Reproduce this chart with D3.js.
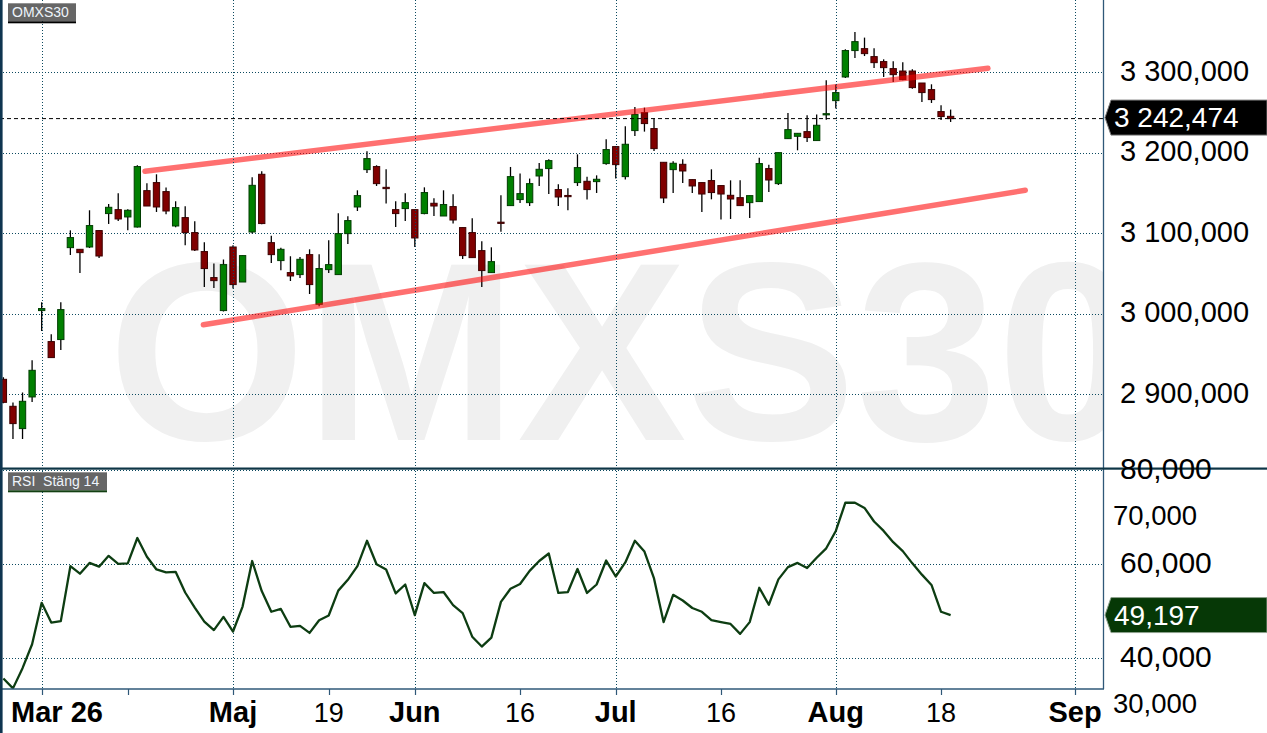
<!DOCTYPE html>
<html><head><meta charset="utf-8">
<script src="https://cdn.jsdelivr.net/npm/d3@7"></script>
<style>
body{margin:0;background:#fff;overflow:hidden}
text{font-family:"Liberation Sans",Arial,Helvetica,sans-serif}
</style>
</head><body>
<svg id="chart" width="1267" height="733"></svg>
<script>
// ---------------- data ----------------
const openP = [
2918.6,2885.1,2857.4,2896.7,3004.0,2965.5,2968.0,3082.2,3080.1,3083.0,
3103.4,3124.5,3129.4,3120.3,3107.8,3153.0,3163.0,3151.8,3109.1,3119.5,
3100.9,3077.3,3045.0,3004.0,3083.0,3039.5,3101.6,3173.3,3088.4,3066.1,
3051.2,3048.7,3073.5,3011.8,3054.9,3048.7,3099.6,3132.7,3179.1,3182.9,
3157.1,3129.4,3130.7,3129.4,3124.5,3137.3,3121.5,3133.2,3107.1,3100.9,
3078.5,3051.2,3113.8,3134.4,3141.9,3138.1,3171.2,3180.4,3154.3,3147.0,
3163.0,3164.6,3164.2,3186.6,3207.7,3170.4,3227.6,3249.9,3230.1,3188.2,
3179.1,3185.7,3166.7,3163.0,3165.5,3159.3,3147.2,3144.3,3138.1,3139.4,
3180.4,3161.7,3217.6,3220.5,3226.3,3215.2,3247.8,3264.8,3294.2,3327.0,
3329.4,3319.5,3313.3,3304.6,3301.6,3301.6,3286.7,3278.5,3251.2,3245.3];
const highP = [
2921.1,2889.7,2902.1,2942.2,3014.3,2974.5,3014.3,3103.7,3080.1,3128.6,
3103.4,3136.4,3149.7,3129.8,3184.5,3162.1,3173.3,3156.8,3139.8,3133.5,
3114.9,3088.8,3062.4,3067.3,3085.1,3072.3,3169.6,3177.0,3097.1,3082.2,
3071.4,3070.6,3080.1,3073.9,3091.3,3124.8,3121.1,3153.4,3201.9,3184.5,
3179.5,3139.8,3149.7,3129.4,3157.1,3143.5,3153.4,3148.4,3107.1,3118.6,
3090.1,3082.6,3147.2,3182.4,3174.2,3168.0,3187.3,3191.9,3160.9,3155.9,
3198.1,3170.4,3172.0,3216.8,3207.7,3232.9,3256.9,3256.1,3242.5,3188.2,
3189.4,3191.9,3166.7,3163.0,3179.5,3159.3,3165.8,3165.8,3146.8,3194.0,
3185.3,3200.2,3249.4,3224.2,3246.6,3247.5,3290.1,3284.7,3328.6,3350.1,
3343.1,3329.8,3316.1,3313.7,3312.4,3303.7,3286.7,3285.1,3259.0,3253.7];
const lowP = [
2889.0,2844.5,2844.5,2890.4,2978.6,2945.6,2955.0,3073.0,3050.7,3081.7,
3069.3,3111.6,3115.3,3103.7,3107.1,3133.9,3126.5,3123.6,3107.5,3085.1,
3078.0,3033.3,3032.1,3003.0,3031.3,3039.5,3099.6,3111.2,3063.1,3054.0,
3040.8,3044.5,3024.6,3009.3,3050.7,3048.7,3086.7,3127.7,3174.9,3158.8,
3136.9,3107.8,3115.3,3083.0,3123.6,3121.5,3121.5,3112.1,3068.1,3069.8,
3033.3,3051.2,3101.9,3134.4,3137.6,3133.9,3158.8,3148.8,3133.9,3128.6,
3158.8,3141.9,3150.1,3185.3,3168.0,3166.7,3220.9,3226.3,3202.2,3137.6,
3150.1,3162.5,3150.1,3126.5,3142.2,3117.0,3117.8,3134.4,3119.0,3139.4,
3151.3,3160.0,3217.6,3203.1,3213.4,3215.2,3241.2,3254.9,3292.9,3317.8,
3320.2,3305.3,3294.2,3287.9,3290.1,3279.7,3263.1,3261.9,3240.7,3238.3];
const closeP = [
2890.0,2863.6,2891.3,2929.8,3006.5,2945.6,3005.2,3094.7,3076.0,3109.6,
3071.8,3132.3,3117.8,3128.6,3182.9,3133.9,3132.7,3127.7,3131.9,3100.9,
3079.3,3056.2,3041.2,3061.1,3036.3,3072.3,3159.6,3112.1,3073.5,3080.1,
3047.0,3067.7,3036.3,3056.2,3061.1,3099.6,3115.8,3146.8,3192.8,3161.7,
3155.5,3124.5,3138.1,3094.2,3150.6,3133.9,3135.7,3116.5,3072.3,3069.8,
3053.7,3064.8,3113.0,3170.4,3149.3,3161.7,3179.5,3190.3,3145.1,3146.5,
3181.6,3154.3,3167.1,3204.0,3185.3,3210.6,3247.5,3236.3,3205.2,3143.9,
3187.0,3177.4,3158.8,3148.8,3150.6,3148.8,3142.6,3134.4,3146.8,3186.6,
3166.2,3200.2,3228.8,3224.2,3218.9,3234.2,3248.6,3274.8,3327.0,3338.1,
3323.2,3312.0,3305.8,3297.1,3290.9,3281.0,3274.8,3266.1,3245.0,3242.474];
const rsiValues = [
35.7,33.6,37.9,43.0,51.8,47.6,47.9,59.6,58.0,60.3,
59.5,61.8,60.1,60.2,65.6,61.6,58.9,58.3,58.4,54.0,
50.8,47.8,46.0,48.8,45.7,51.0,60.7,54.3,49.9,50.5,
46.7,46.9,45.4,48.1,49.1,54.4,56.7,59.6,65.0,60.0,
58.9,53.8,55.7,49.2,56.0,53.9,54.1,51.3,49.6,44.6,
42.5,44.4,52.0,54.8,55.8,58.6,60.7,62.3,53.9,54.1,
59.0,53.9,55.7,60.8,57.4,60.4,65.0,62.7,57.0,47.7,
53.5,52.3,50.7,49.9,48.1,47.7,47.3,45.2,47.7,55.0,
51.4,56.8,59.4,60.3,59.2,61.4,63.4,67.1,73.1,73.1,
72.0,69.1,67.1,64.7,62.8,60.2,57.8,55.6,49.9,49.197];

const priceTicks = [2900, 3000, 3100, 3200, 3300];
const rsiLabelTicks = [80, 70, 60, 40, 30];
const rsiMinorTicks = [70, 30];
const rsiGridTicks = [80, 60, 40];
const dateTickIndex  = [4, 13, 24, 34, 43, 54, 64, 75, 87, 98, 112];
const dateTickLabels = ["Mar 26", "", "Maj", "19", "Jun", "16", "Jul", "16", "Aug", "18", "Sep"];
const dateTickMonth  = [true, false, true, false, true, false, true, false, true, false, true];
const upperTrend = [[14.8, 3177.0], [102.9, 3305.0]];
const lowerTrend = [[20.9, 2986.3], [106.8, 3153.4]];
const lastPrice = 3242.474;
const lastRsi = 49.197;
const titleMain = "OMXS30";
const titleRsi = "RSI  Stäng 14";
const watermark = "OMXS30";

// ---------------- layout ----------------
const W = 1267, H = 733;
const plotRight = 1103;
const mainBottom = 467.5;
const rsiTop = 469.5, rsiBottom = 689;

const loc = d3.formatLocale({decimal: ",", thousands: " ", grouping: [3], currency: ["", ""]});
const fmt = loc.format(",.3f");

const x = d3.scaleLinear().domain([0, 112]).range([3.4, 1075.0]);
const y = d3.scaleLinear().domain([2900, 3300]).range([394.3, 72.3]);
const ry = d3.scaleLinear().domain([30, 80]).range([705.3, 470.3]);
const step = x(1) - x(0);
const bw = step * 0.66;

const svg = d3.select("#chart");
const defs = svg.append("defs");
defs.append("clipPath").attr("id", "clipMain").append("rect")
  .attr("x", 0).attr("y", 0).attr("width", plotRight).attr("height", mainBottom);
defs.append("clipPath").attr("id", "clipRsi").append("rect")
  .attr("x", 0).attr("y", rsiTop).attr("width", plotRight).attr("height", rsiBottom - rsiTop);

svg.append("rect").attr("width", W).attr("height", H).attr("fill", "#fff");

// watermark
const gMain = svg.append("g").attr("clip-path", "url(#clipMain)");
gMain.append("text").text(watermark)
  .attr("x", 108).attr("y", 440)
  .attr("font-size", 254).attr("font-weight", "bold")
  .attr("fill", "#f0f0f0");

const gridColor = "#0c4a60";
// vertical gridlines (month ticks)
const monthIdx = dateTickIndex.filter((d, k) => dateTickMonth[k]);
svg.append("g").selectAll("line").data(monthIdx).join("line")
  .attr("x1", d => Math.round(x(d)) + 0.5).attr("x2", d => Math.round(x(d)) + 0.5)
  .attr("y1", 0).attr("y2", rsiBottom)
  .attr("stroke", gridColor).attr("stroke-width", 1).attr("stroke-dasharray", "1,2");

// horizontal price gridlines
gMain.append("g").selectAll("line").data(priceTicks).join("line")
  .attr("x1", 0).attr("x2", plotRight)
  .attr("y1", d => Math.round(y(d)) + 0.5).attr("y2", d => Math.round(y(d)) + 0.5)
  .attr("stroke", gridColor).attr("stroke-width", 1).attr("stroke-dasharray", "1,2");

// RSI gridlines
svg.append("g").selectAll("line").data(rsiGridTicks).join("line")
  .attr("x1", 0).attr("x2", plotRight)
  .attr("y1", d => Math.max(Math.round(ry(d)) + 0.5, rsiTop + 1)).attr("y2", d => Math.max(Math.round(ry(d)) + 0.5, rsiTop + 1))
  .attr("stroke", gridColor).attr("stroke-width", 1).attr("stroke-dasharray", "1,2");

// candles
const candles = d3.range(openP.length).map(i => ({i, o: openP[i], h: highP[i], l: lowP[i], c: closeP[i]}));
const gc = gMain.append("g");
gc.selectAll("line.wick").data(candles).join("line").attr("class", "wick")
  .attr("x1", d => x(d.i)).attr("x2", d => x(d.i))
  .attr("y1", d => y(d.h)).attr("y2", d => y(d.l))
  .attr("stroke", "#000").attr("stroke-width", 1.3);
gc.selectAll("rect.body").data(candles).join("rect").attr("class", "body")
  .attr("x", d => x(d.i) - bw / 2)
  .attr("y", d => y(Math.max(d.o, d.c)))
  .attr("width", bw)
  .attr("height", d => Math.max(1.2, Math.abs(y(d.o) - y(d.c))))
  .attr("fill", d => d.c >= d.o ? "#008000" : "#800000")
  .attr("stroke", d => d.c >= d.o ? "#003c00" : "#3c0000")
  .attr("stroke-width", 1);

// trend lines
const tline = d3.line().x(d => x(d[0])).y(d => y(d[1]));
[upperTrend, lowerTrend].forEach(t => {
  gMain.append("path").attr("d", tline(t))
    .attr("fill", "none").attr("stroke", "rgba(255,0,0,0.56)")
    .attr("stroke-width", 5.5).attr("stroke-linecap", "round");
});

// last price dashed line
gMain.append("line")
  .attr("x1", 0).attr("x2", plotRight)
  .attr("y1", y(lastPrice)).attr("y2", y(lastPrice))
  .attr("stroke", "#000").attr("stroke-width", 1).attr("stroke-dasharray", "4,3");

// RSI line
const gR = svg.append("g").attr("clip-path", "url(#clipRsi)");
gR.append("path")
  .attr("d", d3.line().x((d, i) => x(i)).y(d => ry(d))(rsiValues))
  .attr("fill", "none").attr("stroke", "#0d3d12").attr("stroke-width", 2.3)
  .attr("stroke-linejoin", "round");

// frame lines
const frameColor = "#2f5878";
svg.append("line").attr("x1", plotRight + 0.5).attr("x2", plotRight + 0.5).attr("y1", 0).attr("y2", rsiBottom)
  .attr("stroke", frameColor).attr("stroke-width", 1.3);
svg.append("line").attr("x1", 0).attr("x2", plotRight + 1).attr("y1", rsiBottom).attr("y2", rsiBottom)
  .attr("stroke", frameColor).attr("stroke-width", 1.3);
svg.append("rect").attr("x", 0).attr("y", mainBottom).attr("width", W).attr("height", 2.2).attr("fill", "#0d3546");
svg.append("rect").attr("x", 0).attr("y", 0).attr("width", 2.6).attr("height", H).attr("fill", "#0e3550");

// x-axis ticks and labels
svg.append("g").selectAll("line").data(dateTickIndex).join("line")
  .attr("x1", d => Math.round(x(d)) + 0.5).attr("x2", d => Math.round(x(d)) + 0.5)
  .attr("y1", rsiBottom).attr("y2", rsiBottom + 6)
  .attr("stroke", frameColor).attr("stroke-width", 1.2);
svg.append("g").selectAll("text").data(dateTickIndex).join("text")
  .text((d, k) => dateTickLabels[k])
  .attr("font-size", (d, k) => dateTickMonth[k] ? 29 : 27)
  .attr("font-weight", (d, k) => dateTickMonth[k] ? "bold" : "normal")
  .attr("fill", "#000")
  .attr("y", 722)
  .each(function(d) {
    const t = d3.select(this);
    const w = this.getComputedTextLength();
    let cx = x(d);
    if (cx - w / 2 < 11) { t.attr("x", 11).attr("text-anchor", "start"); }
    else { t.attr("x", cx).attr("text-anchor", "middle"); }
  });

// price axis labels
svg.append("g").selectAll("text").data(priceTicks).join("text")
  .text(d => fmt(d))
  .attr("x", 1120).attr("y", d => y(d) + 8.5)
  .attr("font-size", 29).attr("fill", "#000");

// RSI axis labels
svg.append("g").selectAll("text").data(rsiLabelTicks).join("text")
  .text(d => fmt(d))
  .attr("x", d => rsiMinorTicks.includes(d) ? 1113 : 1120)
  .attr("y", d => ry(d) + (rsiMinorTicks.includes(d) ? 7.5 : 8.5))
  .attr("font-size", d => rsiMinorTicks.includes(d) ? 27.5 : 30)
  .attr("fill", "#000");

// last value boxes
function valueBox(yc, fill, stroke, label) {
  const pts = [[1105, yc], [1111, yc - 17.5], [W, yc - 17.5], [W, yc + 17.5], [1111, yc + 17.5]];
  svg.append("polygon").attr("points", pts.map(p => p.join(",")).join(" "))
    .attr("fill", fill).attr("stroke", stroke).attr("stroke-width", 1);
  svg.append("text").text(label).attr("x", 1114).attr("y", yc + 9.5)
    .attr("font-size", 28).attr("fill", "#fff");
}
valueBox(y(lastPrice) - 1, "#000", "#777", fmt(lastPrice));
valueBox(ry(lastRsi), "#063806", "#8da08d", fmt(lastRsi));

// panel titles
function titleBox(yTop, label, w, lineColor) {
  svg.append("rect").attr("x", 8).attr("y", yTop).attr("width", w).attr("height", 18).attr("fill", "#666");
  svg.append("rect").attr("x", 8).attr("y", yTop + 18).attr("width", w).attr("height", 2).attr("fill", lineColor);
  svg.append("text").text(label).attr("x", 12).attr("y", yTop + 14)
    .attr("font-size", 14).attr("fill", "#eef4fb").style("white-space", "pre");
}
titleBox(3.3, titleMain, 68, "#000");
titleBox(472.3, titleRsi, 99, "#123f12");
</script>
</body></html>
